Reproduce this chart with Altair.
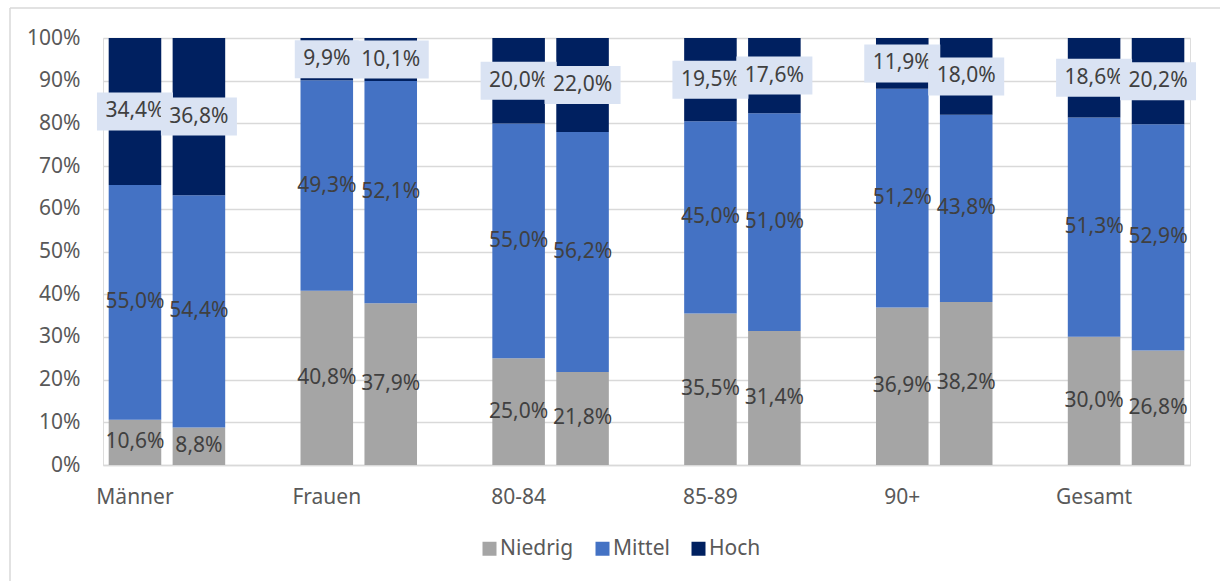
import altair as alt
import pandas as pd

FONT = "Noto Sans"
FS = 21

categories = ["Männer", "Frauen", "80-84", "85-89", "90+", "Gesamt"]
levels = ["Niedrig", "Mittel", "Hoch"]
level_colors = ["#A5A5A5", "#4472C4", "#002060"]

# shares (%) for the first and second bar of every category
niedrig_1 = [10.6, 40.8, 25.0, 35.5, 36.9, 30.0]
mittel_1 = [55.0, 49.3, 55.0, 45.0, 51.2, 51.3]
hoch_1 = [34.4, 9.9, 20.0, 19.5, 11.9, 18.6]

niedrig_2 = [8.8, 37.9, 21.8, 31.4, 38.2, 26.8]
mittel_2 = [54.4, 52.1, 56.2, 51.0, 43.8, 52.9]
hoch_2 = [36.8, 10.1, 22.0, 17.6, 18.0, 20.2]

rows = []
for i, cat in enumerate(categories):
    pairs = (("1", (niedrig_1[i], mittel_1[i], hoch_1[i])),
             ("2", (niedrig_2[i], mittel_2[i], hoch_2[i])))
    for bar, vals in pairs:
        for order, (lvl, v) in enumerate(zip(levels, vals)):
            rows.append({
                "slot": f"{cat}|{bar}",
                "bar": bar,
                "level": lvl,
                "order": order,
                "value": v,
                "label": f"{v:.1f}".replace(".", ",") + "%",
            })
df = pd.DataFrame(rows)

# two bars per category followed by an empty slot
slots = []
for i, cat in enumerate(categories):
    slots += [f"{cat}|1", f"{cat}|2"]
    if i < len(categories) - 1:
        slots.append(f"{cat}|gap")

W, H = 1087, 427
GRID = "#D9D9D9"
LABEL = "#595959"

def x_enc():
    return alt.X(
        "slot:N",
        scale=alt.Scale(domain=slots, paddingInner=0.178, paddingOuter=0.089),
        axis=alt.Axis(
            title=None,
            labelExpr="indexof(datum.value, '|1') > 0 ? split(datum.value, '|')[0] : ''",
            labelAngle=0,
            ticks=False,
            domainColor=GRID,
            domainWidth=1.5,
            labelFont=FONT,
            labelFontSize=FS,
            labelColor=LABEL,
            labelPadding=21,
        ),
    )

def y_enc(field):
    return alt.Y(
        f"{field}:Q",
        scale=alt.Scale(domain=[0, 1], nice=False),
        axis=alt.Axis(
            title=None,
            format=".0%",
            values=[i / 10 for i in range(11)],
            domain=False,
            ticks=False,
            gridColor=GRID,
            gridWidth=1.5,
            labelFont=FONT,
            labelFontSize=FS,
            labelColor=LABEL,
            labelPadding=23,
        ),
    )

base = alt.Chart(df).transform_stack(
    stack="value",
    groupby=["slot"],
    as_=["y0", "y1"],
    offset="normalize",
    sort=[alt.SortField("order", order="ascending")],
).transform_calculate(mid="(datum.y0 + datum.y1) / 2")

bars = base.mark_bar().encode(
    x=x_enc(),
    y=y_enc("y0"),
    y2="y1:Q",
    color=alt.Color(
        "level:N",
        scale=alt.Scale(domain=levels, range=level_colors),
        legend=alt.Legend(
            title=None,
            orient="none",
            direction="horizontal",
            legendX=376,
            legendY=500,
            padding=0,
            symbolType="square",
            symbolSize=196,
            symbolStrokeWidth=0,
            labelFont=FONT,
            labelFontSize=FS,
            labelColor=LABEL,
            labelOffset=0,
            columnPadding=18,
        ),
    ),
)

inner_text = base.transform_filter("datum.level != 'Hoch'").mark_text(
    font=FONT, fontSize=FS, color="#404040"
).encode(x=x_enc(), y=y_enc("mid"), text="label:N")

box_path = ("length(datum.label) > 4 ? 'M-0.76,-0.38H0.76V0.38H-0.76Z'"
            " : 'M-0.64,-0.38H0.64V0.38H-0.64Z'")

top_layers = []
for b in ("1", "2"):
    top = base.transform_filter(f"datum.level == 'Hoch' && datum.bar == '{b}'")
    boxes = top.transform_calculate(box=box_path).mark_point(
        filled=True, opacity=1, color="#DAE3F3", size=10000, strokeWidth=0
    ).encode(x=x_enc(), y=y_enc("mid"), shape=alt.Shape("box:N", scale=None))
    texts = top.mark_text(font=FONT, fontSize=FS, color="#404040").encode(
        x=x_enc(), y=y_enc("mid"), text="label:N"
    )
    top_layers += [boxes, texts]

frame_data = alt.Data(values=[{}])
frame_top = alt.Chart(frame_data).mark_rule(color=GRID, strokeWidth=1.5).encode(
    x=alt.value(-93), x2=alt.value(W + 40), y=alt.value(-30)
)
frame_left = alt.Chart(frame_data).mark_rule(color=GRID, strokeWidth=1.5).encode(
    x=alt.value(-93), y=alt.value(-30), y2=alt.value(H + 130)
)

chart = alt.layer(
    frame_top, frame_left, bars, inner_text, *top_layers
).properties(
    width=W,
    height=H,
    autosize=alt.AutoSizeParams(type="none"),
    padding={"left": 103, "top": 38, "right": 30, "bottom": 116},
).configure_view(stroke=None).configure(background="white")

chart.save("out.html", embed_options={"renderer": "svg", "actions": False})
